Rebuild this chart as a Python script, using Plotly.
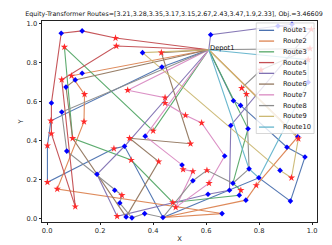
import plotly.graph_objects as go

FONT = "DejaVu Sans"
FS = 6.7

# ---------------- data ----------------
route_lengths = [3.21, 3.28, 3.35, 3.17, 3.15, 2.67, 2.43, 3.47, 1.9, 2.33]
objective = 3.46609
route_names = ["Route1", "Route2", "Route3", "Route4", "Route5",
               "Route6", "Route7", "Route8", "Route9", "Route10"]
route_colors = ["#4C72B0", "#DD8452", "#55A868", "#C44E52", "#8172B3",
                "#937860", "#DA8BC3", "#8C8C8C", "#CCB974", "#64B5CD"]

depot_x, depot_y = 0.610, 0.867
depot_label = "Depot1"

# blue diamond nodes B1..B43
blue_x = [0.053, 0.132, 0.132, 0.106, 0.071, 0.016, 0.055, 0.074, 0.292, 0.188,
          0.255, 0.274, 0.298, 0.320, 0.368, 0.437, 0.370, 0.509, 0.550, 0.607,
          0.360, 0.433, 0.617, 0.924, 0.703, 0.730, 0.693, 0.758, 0.670, 0.762,
          0.799, 0.879, 0.905, 0.946, 0.973, 0.918, 0.701, 0.688, 0.725, 0.750,
          0.660, 0.871, 0.985]
blue_y = [0.952, 0.964, 0.746, 0.712, 0.675, 0.593, 0.547, 0.346, 0.371, 0.227,
          0.145, 0.079, 0.008, 0.003, 0.025, 0.005, 0.423, 0.275, 0.194, 0.124,
          0.852, 0.778, 0.944, 0.998, 0.605, 0.581, 0.478, 0.461, 0.321, 0.255,
          0.209, 0.247, 0.366, 0.420, 0.316, 0.089, 0.181, 0.145, 0.119, 0.094,
          0.025, 0.989, 0.700]

# red star nodes R1..R44
red_x = [0.258, 0.261, 0.065, 0.055, 0.092, 0.141, 0.014, 0.139, 0.016, 0.001,
         0.001, 0.038, 0.106, 0.096, 0.311, 0.252, 0.317, 0.282, 0.264, 0.431,
         0.304, 0.445, 0.445, 0.522, 0.583, 0.400, 0.541, 0.421, 0.474, 0.485,
         0.513, 0.550, 0.603, 0.611, 0.731, 0.789, 0.922, 0.734, 0.752, 0.948,
         0.997, 0.992, 0.807, 0.985]
red_y = [0.927, 0.886, 0.881, 0.713, 0.733, 0.638, 0.502, 0.497, 0.436, 0.374,
         0.186, 0.151, 0.061, 0.412, 0.412, 0.359, 0.300, 0.119, 0.011, 0.852,
         0.659, 0.621, 0.593, 0.530, 0.491, 0.450, 0.384, 0.292, 0.082, 0.057,
         0.252, 0.242, 0.247, 0.181, 0.145, 0.170, 0.209, 0.670, 0.639, 0.410,
         0.972, 0.873, 0.763, 0.816]

# visiting order of every route (depot at both ends)
route1 = ["D", "B22", "R7", "R10", "R11", "R16", "B9", "B16", "B31", "B36", "B35", "B33", "B26", "B25", "D"]
route2 = ["D", "B3", "R5", "R6", "R8", "R12", "B41", "B16", "B40", "R36", "B34", "D"]
route3 = ["D", "R26", "R3", "R14", "R17", "R29", "B39", "R35", "B37", "B28", "D"]
route4 = ["D", "R1", "B2", "B1", "B6", "R9", "R13", "R4", "R2", "D"]
route5 = ["D", "B23", "B24", "B42", "R41", "B27", "B38", "B20", "R19", "B10", "B9", "D"]
route6 = ["D", "B4", "B5", "R14", "B13", "R28", "R15", "R27", "R20", "D"]
route7 = ["D", "R21", "R22", "R23", "R24", "R25", "B29", "R34", "R30", "R32", "R31", "B18", "B17", "D"]
route8 = ["D", "B7", "B8", "B11", "R18", "B12", "B14", "B15", "B16", "B19", "R33", "B37", "B30", "R39", "R38", "R43", "R42", "D"]
route9 = ["D", "B21", "B32", "R37", "R40", "D"]
route10 = ["D", "B30", "B31", "B43", "R44", "D"]
routes = [route1, route2, route3, route4, route5, route6, route7, route8, route9, route10]

# ---------------- figure ----------------
nodes = {"D": (depot_x, depot_y)}
for i, (x, y) in enumerate(zip(blue_x, blue_y)):
    nodes["B%d" % (i + 1)] = (x, y)
for i, (x, y) in enumerate(zip(red_x, red_y)):
    nodes["R%d" % (i + 1)] = (x, y)

fig = go.Figure()
for name, color, stops in zip(route_names, route_colors, routes):
    fig.add_trace(go.Scatter(
        x=[nodes[s][0] for s in stops], y=[nodes[s][1] for s in stops],
        mode="lines", name=name, line=dict(color=color, width=1.1),
        opacity=0.95, showlegend=False, hoverinfo="skip"))

fig.add_trace(go.Scatter(x=blue_x, y=blue_y, mode="markers", showlegend=False,
                         marker=dict(symbol="diamond", size=4.3, color="#0000ff",
                                     line=dict(width=0))))
fig.add_trace(go.Scatter(x=red_x, y=red_y, mode="markers", showlegend=False,
                         marker=dict(symbol="star", size=5.5, color="#ff2a2a",
                                     line=dict(width=0))))

fig.add_annotation(x=depot_x, y=depot_y, text=depot_label, showarrow=False,
                   xanchor="left", yanchor="middle", yshift=1.5, xshift=-1,
                   font=dict(family=FONT, size=FS, color="#111"))

W, H = 332, 245
L, R, T, B = 27, 23, 13, 23
PW, PH = W - L - R, H - T - B


def px(xp):
    return (xp - L) / PW


def py(yp):
    return (H - B - yp) / PH


# legend (matplotlib style) built from route names/colours
fig.add_shape(type="rect", xref="paper", yref="paper",
              x0=px(246.7), x1=px(306), y0=py(130), y1=py(15),
              line=dict(color="#cccccc", width=0.8),
              fillcolor="rgba(255,255,255,0.8)", layer="above")
for i, (name, color) in enumerate(zip(route_names, route_colors)):
    yy = 22.7 + i * 11.18
    fig.add_shape(type="line", xref="paper", yref="paper",
                  x0=px(249.5), x1=px(265), y0=py(yy), y1=py(yy),
                  line=dict(color=color, width=1.3), layer="above")
    fig.add_annotation(xref="paper", yref="paper", x=px(272.5), y=py(yy),
                       text=name, showarrow=False, xanchor="left", yanchor="middle",
                       font=dict(family=FONT, size=FS, color="#111"))

title = ("Equity-Transformer Routes=[" + ",".join(str(v) for v in route_lengths)
         + "], Obj.=" + str(objective))

axis_common = dict(showline=True, mirror=True, linecolor="#222", linewidth=0.8,
                   ticks="outside", ticklen=2.5, tickwidth=0.7, tickcolor="#222",
                   showgrid=False, zeroline=False,
                   tickfont=dict(family=FONT, size=FS, color="#222"))

fig.update_layout(
    width=W, height=H,
    margin=dict(l=L, r=R, t=T, b=B),
    paper_bgcolor="white", plot_bgcolor="white",
    title=dict(text=title, x=0.5, xref="container", y=1 - 5.5 / H, yref="container",
               xanchor="center", yanchor="middle",
               font=dict(family=FONT, size=6.35, color="#111")),
    xaxis=dict(range=[-0.0195, 1.0184], tickvals=[0, 0.2, 0.4, 0.6, 0.8, 1.0],
               ticktext=["0.0", "0.2", "0.4", "0.6", "0.8", "1.0"],
               title=dict(text="X", standoff=1, font=dict(family=FONT, size=FS, color="#111")),
               **axis_common),
    yaxis=dict(range=[-0.0183, 1.0148], tickvals=[0, 0.2, 0.4, 0.6, 0.8, 1.0],
               ticktext=["0.0", "0.2", "0.4", "0.6", "0.8", "1.0"],
               title=dict(text="Y", standoff=2, font=dict(family=FONT, size=FS, color="#111")),
               **axis_common),
    showlegend=False,
)

fig.write_html("out.html")
